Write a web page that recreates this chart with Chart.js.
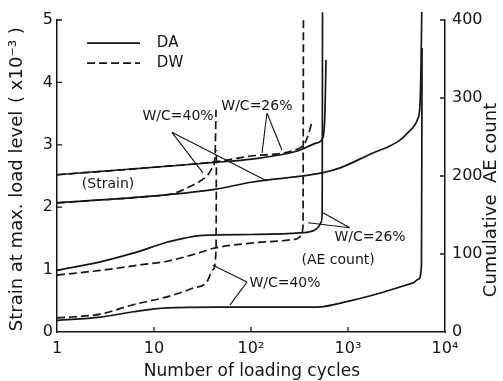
<!DOCTYPE html>
<html lang="en">
<head>
  <meta charset="UTF-8" />
  <title>Strain and cumulative AE count vs. loading cycles</title>
  <script src="https://cdn.jsdelivr.net/npm/chart.js"></script>
  <style>
    html, body { margin: 0; padding: 0; background: #fff; }
    #chart { display: block; }
  </style>
</head>
<body>
  <canvas id="chart" width="503" height="381"></canvas>

  <script>
    // x axis: number of loading cycles, decades only
    const xTicks = [1, 10, 100, 1000, 10000];
    const xTickLabels = ['1', '10', '10²', '10³', '10⁴'];

    // strain at max. load level (x10^-3), left axis
    const daStrain26N = [1, 10, 44, 100, 300, 480, 552, 580, 593];
    const daStrain26  = [2.52, 2.64, 2.72, 2.77, 2.9, 3.03, 3.12, 3.56, 4.36];
    const dwStrain26N = [1, 10, 44, 100, 320, 360, 395, 425];
    const dwStrain26  = [2.52, 2.64, 2.73, 2.82, 2.95, 3.03, 3.19, 3.37];
    const daStrain40N = [1, 10, 44, 100, 540, 830, 1810, 2700, 3540, 4170, 4800, 5250, 5500, 5650, 5760];
    const daStrain40  = [2.07, 2.18, 2.29, 2.40, 2.55, 2.63, 2.87, 2.98, 3.09, 3.2, 3.3, 3.42, 3.6, 4.2, 5.13];
    const dwStrain40N = [1, 10, 16, 22, 30, 36, 40, 42.5, 43.6];
    const dwStrain40  = [2.07, 2.18, 2.22, 2.31, 2.42, 2.52, 2.63, 2.79, 3.56];

    // cumulative AE count, right axis
    const daAE26N = [1, 2.8, 6.5, 13.6, 32, 100, 320, 460, 505, 530, 542, 546];
    const daAE26  = [79, 90, 102, 115, 124, 125, 127, 131, 136, 141, 156, 410];
    const dwAE26N = [1, 2.8, 7.2, 14, 30, 40, 100, 250, 320, 335, 344, 347];
    const dwAE26  = [73, 79, 86, 91, 102, 107, 114, 118, 122, 128, 137, 400];
    const daAE40N = [1, 2.8, 6.1, 13.6, 44, 480, 1050, 2300, 4680, 5380, 5720, 5800];
    const daAE40  = [15, 19, 26, 31, 32, 32, 40, 51, 63, 68, 86, 364];
    const dwAE40N = [1, 2.8, 6.1, 13.6, 25, 35, 40.6, 43.6, 44];
    const dwAE40  = [18, 23, 35, 45, 56, 64, 80, 105, 233];

    // text labels, placed in data units (cycles, strain)
    const notes = [
      { text: 'W/C=40%',   n: 17.7, s: 3.45 },
      { text: 'W/C=26%',   n: 115,  s: 3.61 },
      { text: '(Strain)',  n: 3.36, s: 2.36 },
      { text: 'W/C=26%',   n: 1686, s: 1.52 },
      { text: '(AE count)', n: 790, s: 1.15 },
      { text: 'W/C=40%',   n: 224,  s: 0.785 }
    ];
    // leader lines: [from, to] in (cycles, strain)
    const leaders = [
      [[15.3, 3.2], [32.0, 2.55]],
      [[15.3, 3.2], [146, 2.42]],
      [[146, 3.51], [130, 2.87]],
      [[146, 3.51], [208, 2.92]],
      [[1044, 1.67], [553, 1.91]],
      [[1044, 1.67], [388, 1.75]],
      [[90.8, 0.80], [40.5, 1.07]],
      [[90.8, 0.80], [60.6, 0.43]]
    ];

    const ink = '#151515';
    const dash = [8, 4];

    function pts(xs, ys) {
      return xs.map((x, i) => ({ x: x, y: ys[i] }));
    }

    function series(xs, ys, dashed, axis) {
      return {
        data: pts(xs, ys),
        yAxisID: axis,
        borderColor: ink,
        borderWidth: 1.7,
        borderDash: dashed ? dash : [],
        pointRadius: 0,
        cubicInterpolationMode: 'monotone',
        fill: false,
        clip: false
      };
    }

    // inward ticks, axis titles, legend and labels
    const decor = {
      id: 'decor',
      afterDraw(chart) {
        const { ctx, chartArea: a, scales } = chart;
        const px = n => scales.x.getPixelForValue(n);
        const py = s => scales.y.getPixelForValue(s);

        ctx.save();
        ctx.strokeStyle = ink;
        ctx.fillStyle = ink;
        ctx.lineWidth = 1.3;

        ctx.beginPath();
        scales.y.ticks.forEach(t => {
          if (t.value === 0) return;
          const y = py(t.value);
          ctx.moveTo(a.left, y); ctx.lineTo(a.left + 5, y);
        });
        scales.y1.ticks.forEach(t => {
          if (t.value === 0) return;
          const y = scales.y1.getPixelForValue(t.value);
          ctx.moveTo(a.right, y); ctx.lineTo(a.right - 5, y);
        });
        xTicks.slice(1, -1).forEach(v => {
          const x = px(v);
          ctx.moveTo(x, a.bottom); ctx.lineTo(x, a.bottom - 5);
        });
        ctx.stroke();

        // legend
        const ly1 = py(4.63), ly2 = py(4.31);
        ctx.lineWidth = 1.7;
        ctx.beginPath();
        ctx.moveTo(px(2.04), ly1); ctx.lineTo(px(7.17), ly1);
        ctx.stroke();
        ctx.setLineDash(dash);
        ctx.beginPath();
        ctx.moveTo(px(2.04), ly2); ctx.lineTo(px(7.17), ly2);
        ctx.stroke();
        ctx.setLineDash([]);

        ctx.font = '15px "DejaVu Sans"';
        ctx.textAlign = 'left';
        ctx.textBaseline = 'middle';
        ctx.fillText('DA', px(10.7), ly1);
        ctx.fillText('DW', px(10.7), ly2);

        // leader lines
        ctx.lineWidth = 1.1;
        ctx.beginPath();
        leaders.forEach(([p, q]) => {
          ctx.moveTo(px(p[0]), py(p[1]));
          ctx.lineTo(px(q[0]), py(q[1]));
        });
        ctx.stroke();

        ctx.font = '14px "DejaVu Sans"';
        ctx.textAlign = 'center';
        notes.forEach(t => ctx.fillText(t.text, px(t.n), py(t.s)));

        // axis titles
        ctx.font = '17px "DejaVu Sans"';
        ctx.fillText('Number of loading cycles', 252, 372);

        ctx.font = '18px "DejaVu Sans"';
        ctx.save();
        ctx.translate(17, 221);
        ctx.rotate(-Math.PI / 2);
        ctx.fillText('Strain at max. load level', 0, 0);
        ctx.restore();
        ctx.save();
        ctx.translate(17, 65);
        ctx.rotate(-Math.PI / 2);
        ctx.fillText('( x10⁻³ )', 0, 0);
        ctx.restore();
        ctx.save();
        ctx.translate(491, 200);
        ctx.rotate(-Math.PI / 2);
        ctx.fillText('Cumulative  AE count', 0, 0);
        ctx.restore();

        ctx.restore();
      }
    };

    const tickFont = { family: 'DejaVu Sans', size: 16 };
    const axisLine = { display: true, color: ink, width: 1.5 };
    const noGrid = { display: true, drawOnChartArea: false, drawTicks: false };

    new Chart(document.getElementById('chart'), {
      type: 'line',
      data: {
        datasets: [
          series(daStrain26N, daStrain26, false, 'y'),
          series(dwStrain26N, dwStrain26, true, 'y'),
          series(daStrain40N, daStrain40, false, 'y'),
          series(dwStrain40N, dwStrain40, true, 'y'),
          series(daAE26N, daAE26, false, 'y1'),
          series(dwAE26N, dwAE26, true, 'y1'),
          series(daAE40N, daAE40, false, 'y1'),
          series(dwAE40N, dwAE40, true, 'y1')
        ]
      },
      options: {
        responsive: false,
        animation: false,
        devicePixelRatio: 1,
        layout: { padding: { top: 20 } },
        plugins: {
          legend: { display: false },
          tooltip: { enabled: false }
        },
        scales: {
          x: {
            type: 'logarithmic',
            min: 1,
            max: 10000,
            grid: noGrid,
            border: axisLine,
            afterBuildTicks: s => { s.ticks = xTicks.map(v => ({ value: v })); },
            afterFit: s => { s.height = 49; },
            ticks: {
              autoSkip: false,
              maxRotation: 0,
              padding: 7,
              color: ink,
              font: tickFont,
              callback: (v, i) => xTickLabels[i]
            }
          },
          y: {
            position: 'left',
            min: 0,
            max: 5,
            grid: noGrid,
            border: axisLine,
            afterFit: s => { s.width = 57; },
            ticks: { stepSize: 1, padding: 4, color: ink, font: tickFont }
          },
          y1: {
            position: 'right',
            min: 0,
            max: 400,
            grid: noGrid,
            border: axisLine,
            afterFit: s => { s.width = 58; },
            ticks: { stepSize: 100, padding: 7, color: ink, font: tickFont }
          }
        }
      },
      plugins: [decor]
    });
  </script>
</body>
</html>
